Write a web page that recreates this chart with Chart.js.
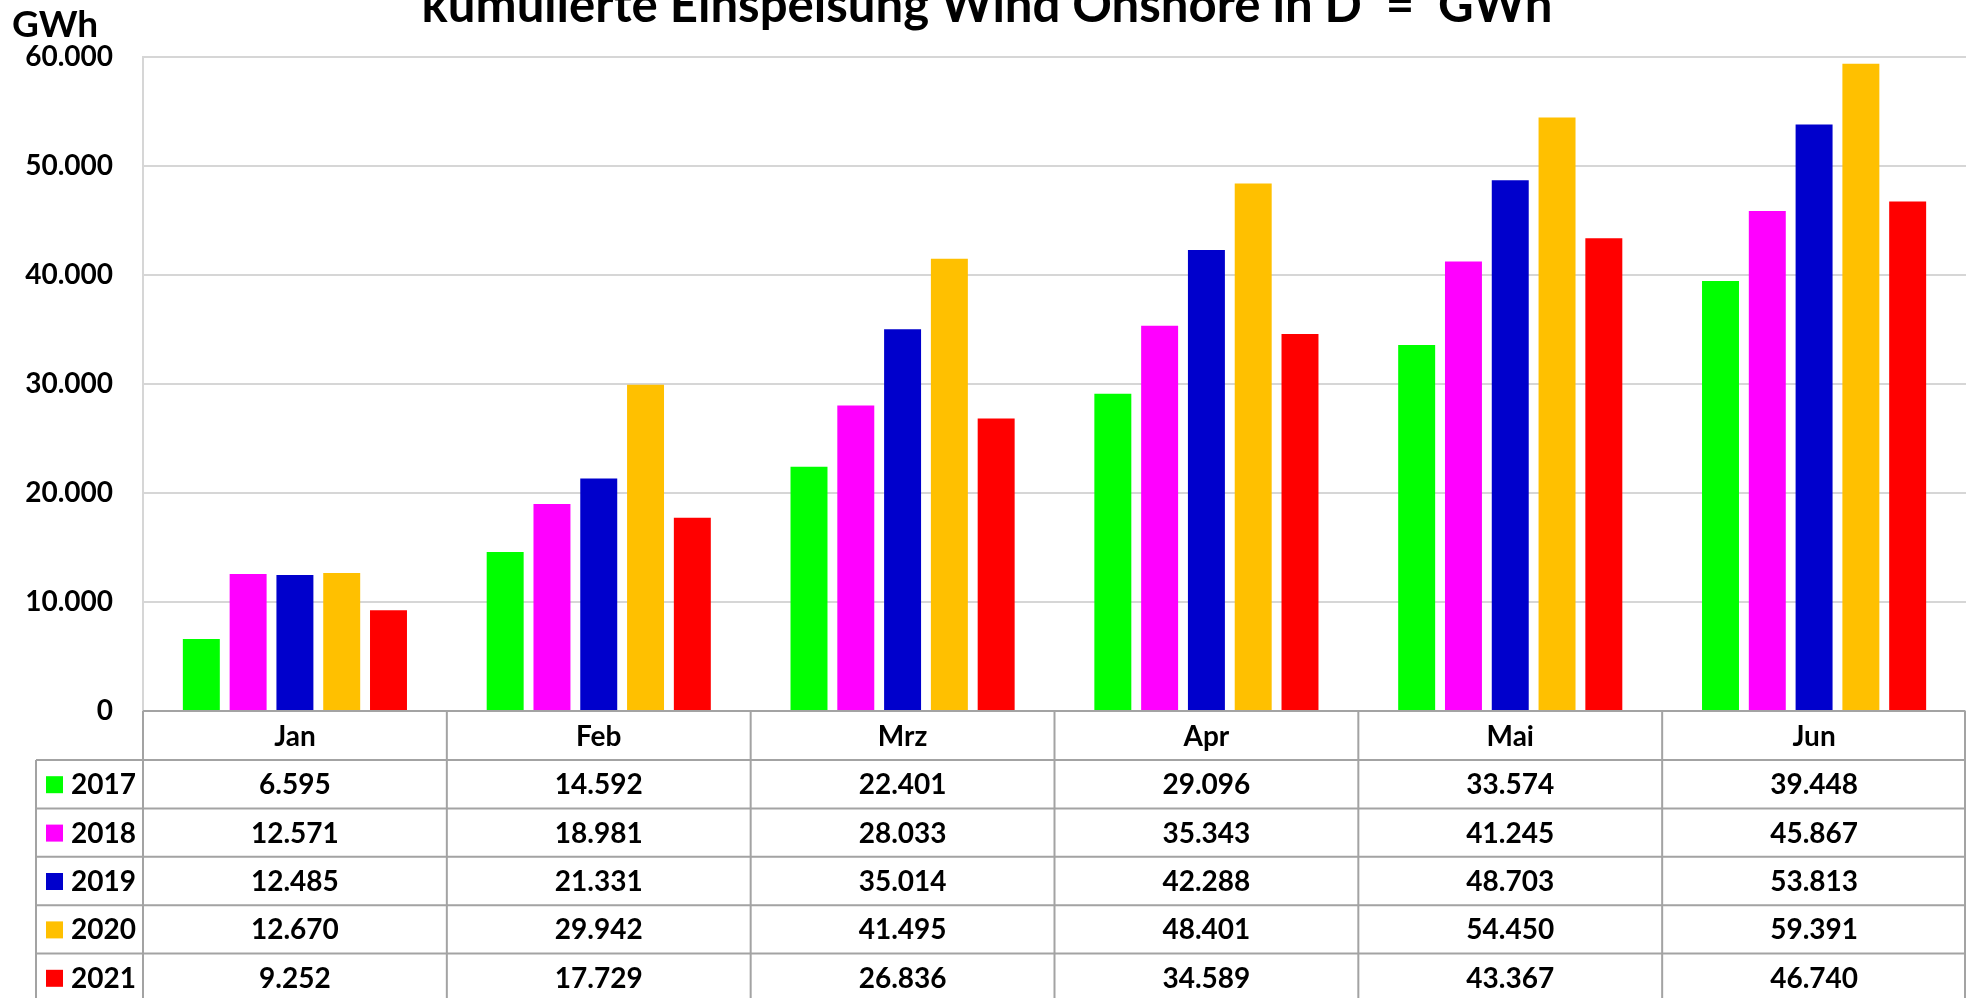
<!DOCTYPE html>
<html>
<head>
<meta charset="utf-8">
<script src="https://cdn.jsdelivr.net/npm/chart.js@4.4.1/dist/chart.umd.min.js"></script>
<style>
  html, body { margin: 0; padding: 0; background: #fff; overflow: hidden; }
  #wrap { width: 1966px; height: 998px; position: relative; }
</style>
</head>
<body>
<div id="wrap"><canvas id="chart"></canvas></div>
<script>
// Daten: kumulierte Einspeisung Wind Onshore (GWh)
var months = ["Jan", "Feb", "Mrz", "Apr", "Mai", "Jun"];
var years = ["2017", "2018", "2019", "2020", "2021"];
var colors = ["#00ff00", "#ff00ff", "#0000cc", "#ffc000", "#ff0000"];

var v2017 = [6595, 14592, 22401, 29096, 33574, 39448];
var v2018 = [12571, 18981, 28033, 35343, 41245, 45867];
var v2019 = [12485, 21331, 35014, 42288, 48703, 53813];
var v2020 = [12670, 29942, 41495, 48401, 54450, 59391];
var v2021 = [9252, 17729, 26836, 34589, 43367, 46740];

var yTicks = [0, 10000, 20000, 30000, 40000, 50000, 60000];

var titleText = "kumulierte Einspeisung Wind Onshore in D  =  GWh";
var unitText = "GWh";

var series = [v2017, v2018, v2019, v2020, v2021];
var FONT = "Lato, 'Open Sans', sans-serif";
var TABLE_LINE = "#a3a3a3";

function fmt(n) {
  return String(n).replace(/\B(?=(\d{3})+(?!\d))/g, ".");
}

// Titel, Einheit und Datentabelle unter der x-Achse
var tablePlugin = {
  id: "tablePlugin",
  afterDraw: function(chart) {
    var ctx = chart.ctx;
    var area = chart.chartArea;
    var xs = chart.scales.x;
    var headH = 49, rowH = 48.4;
    var legendLeft = 36;
    var top = area.bottom;
    var right = chart.width - 1;

    ctx.save();
    // Titel (oben angeschnitten)
    ctx.font = "bold 100px " + FONT;
    var w = ctx.measureText(titleText).width;
    var size = 100 * 1130 / w;
    ctx.font = "bold " + size.toFixed(1) + "px " + FONT;
    ctx.fillStyle = "#000";
    ctx.textAlign = "center";
    ctx.textBaseline = "alphabetic";
    ctx.fillText(titleText, 987, 22);

    // Einheit
    ctx.font = "bold 37px " + FONT;
    ctx.textAlign = "left";
    ctx.fillText(unitText, 12, 37);

    // Tabellenlinien
    ctx.strokeStyle = TABLE_LINE;
    ctx.lineWidth = 2;
    ctx.beginPath();
    ctx.moveTo(area.left, top);
    ctx.lineTo(right, top);
    for (var r = 0; r <= years.length; r++) {
      var y = top + headH + r * rowH;
      ctx.moveTo(legendLeft, y);
      ctx.lineTo(right, y);
    }
    ctx.moveTo(legendLeft, top + headH);
    ctx.lineTo(legendLeft, chart.height);
    ctx.moveTo(area.left, top);
    ctx.lineTo(area.left, chart.height);
    var colW = (area.right - area.left) / months.length;
    for (var c = 1; c <= months.length; c++) {
      var x = area.left + c * colW;
      if (x > right) x = right;
      ctx.moveTo(x, top);
      ctx.lineTo(x, chart.height);
    }
    ctx.stroke();

    // Kopfzeile
    ctx.fillStyle = "#000";
    ctx.font = "bold 28px " + FONT;
    ctx.textAlign = "center";
    ctx.textBaseline = "middle";
    months.forEach(function(m, i) {
      ctx.fillText(m, xs.getPixelForValue(i), top + headH / 2 + 1);
    });

    // Zeilen
    years.forEach(function(yr, r) {
      var cy = top + headH + r * rowH + rowH / 2 + 1;
      ctx.fillStyle = colors[r];
      ctx.fillRect(46, cy - 9, 17, 17);
      ctx.fillStyle = "#000";
      ctx.textAlign = "left";
      ctx.fillText(yr, 71, cy);
      ctx.textAlign = "center";
      series[r].forEach(function(v, i) {
        ctx.fillText(fmt(v), xs.getPixelForValue(i), cy);
      });
    });
    ctx.restore();
  }
};

function draw() {
  var datasets = years.map(function(y, i) {
    return {
      label: y,
      data: series[i],
      backgroundColor: colors[i],
      borderWidth: 0,
      categoryPercentage: 0.77,
      barPercentage: 0.79
    };
  });

  new Chart(document.getElementById("chart"), {
    type: "bar",
    data: { labels: months, datasets: datasets },
    options: {
      responsive: true,
      maintainAspectRatio: false,
      animation: false,
      layout: { padding: { top: 57, right: 0, left: 0, bottom: 0 } },
      plugins: {
        legend: { display: false },
        title: { display: false },
        tooltip: { enabled: false }
      },
      scales: {
        x: {
          ticks: { display: false },
          grid: { display: false },
          border: { display: false },
          afterFit: function(scale) { scale.height = 998 - 711; }
        },
        y: {
          min: 0,
          max: 60000,
          afterBuildTicks: function(scale) {
            scale.ticks = yTicks.map(function(v) { return { value: v }; });
          },
          ticks: {
            padding: 30,
            color: "#000",
            font: { family: FONT, size: 28, weight: "bold" },
            callback: function(v) { return fmt(v); }
          },
          grid: { color: "#d6d6d6", lineWidth: 2, drawTicks: false },
          border: { display: true, color: "#d6d6d6", width: 2 },
          afterFit: function(scale) { scale.width = 143; }
        }
      }
    },
    plugins: [tablePlugin]
  });
}

document.addEventListener("DOMContentLoaded", function() {
  var c = document.getElementById("chart");
  c.parentNode.style.width = "1966px";
  c.parentNode.style.height = "998px";
  if (document.fonts && document.fonts.load) {
    Promise.all([
      document.fonts.load("bold 28px Lato"),
      document.fonts.load("bold 40px Lato")
    ]).then(draw, draw);
  } else {
    draw();
  }
});
</script>
</body>
</html>
